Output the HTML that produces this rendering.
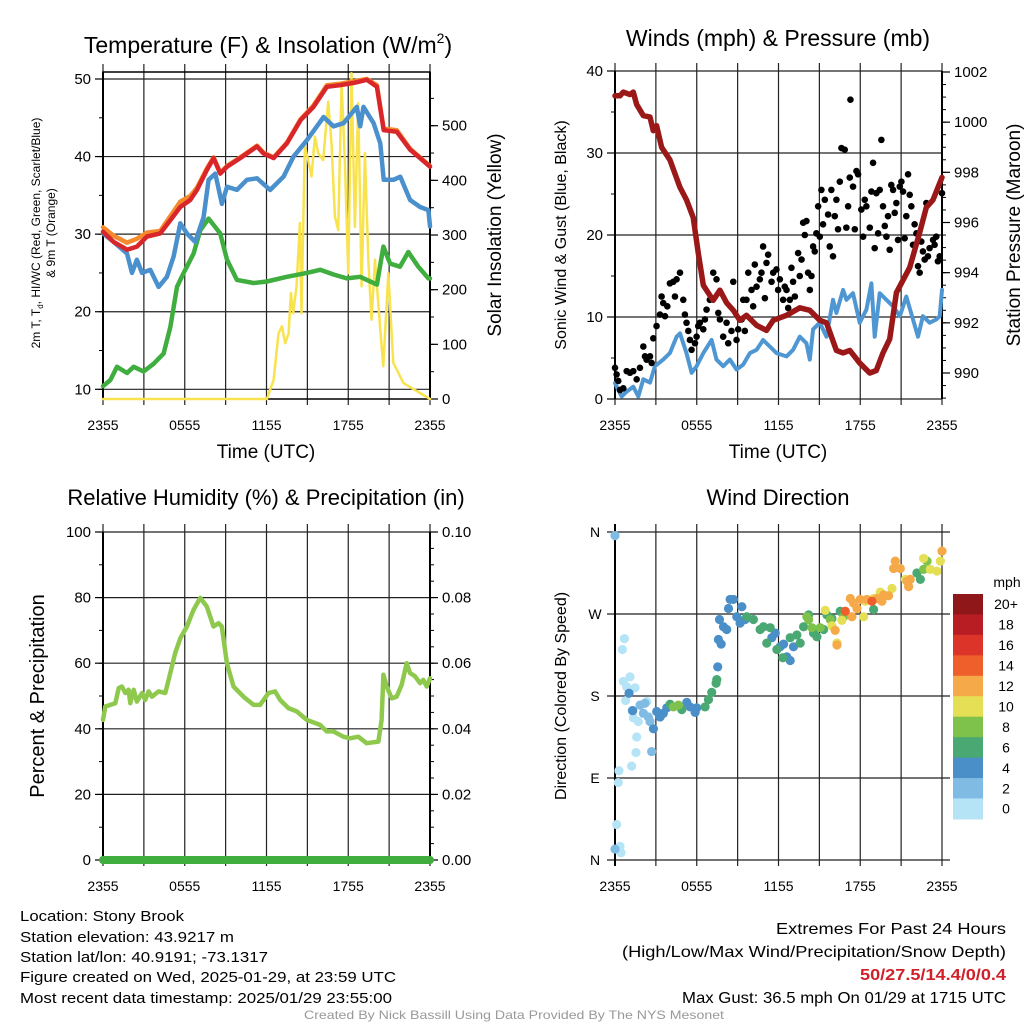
<!DOCTYPE html>
<html><head><meta charset="utf-8"><style>
body{margin:0;background:#fff}
svg{display:block;font-family:"Liberation Sans",sans-serif}
</style></head><body>
<svg id="chart" width="1024" height="1024" viewBox="0 0 1024 1024" xmlns="http://www.w3.org/2000/svg">
<rect width="1024" height="1024" fill="#fff"/>
<g id="root"></g>
<g font-size="15" fill="#000">
<text x="20" y="921" textLength="164" lengthAdjust="spacingAndGlyphs">Location: Stony Brook</text>
<text x="20" y="942" textLength="214" lengthAdjust="spacingAndGlyphs">Station elevation: 43.9217 m</text>
<text x="20" y="962" textLength="248" lengthAdjust="spacingAndGlyphs">Station lat/lon: 40.9191; -73.1317</text>
<text x="20" y="982" textLength="376" lengthAdjust="spacingAndGlyphs">Figure created on Wed, 2025-01-29, at 23:59 UTC</text>
<text x="20" y="1003" textLength="372" lengthAdjust="spacingAndGlyphs">Most recent data timestamp: 2025/01/29 23:55:00</text>
</g>
<g font-size="16" fill="#000" text-anchor="end">
<text x="1006" y="934" textLength="230" lengthAdjust="spacingAndGlyphs">Extremes For Past 24 Hours</text>
<text x="1006" y="957" textLength="384" lengthAdjust="spacingAndGlyphs">(High/Low/Max Wind/Precipitation/Snow Depth)</text>
<text x="1006" y="980" textLength="146" lengthAdjust="spacingAndGlyphs" fill="#d0202a" font-weight="bold">50/27.5/14.4/0/0.4</text>
<text x="1006" y="1003" textLength="324" lengthAdjust="spacingAndGlyphs">Max Gust: 36.5 mph On 01/29 at 1715 UTC</text>
</g>
<text x="514" y="1019" font-size="12" fill="#999" text-anchor="middle" textLength="420" lengthAdjust="spacingAndGlyphs">Created By Nick Bassill Using Data Provided By The NYS Mesonet</text>
</svg>
<script>
// ---------- DATA ----------
const tickHours=[0,6,12,18,24];
const tickTimeLabels=["2355","0555","1155","1755","2355"];
// Panel 1
const tempTimes=[0,0.78,1.76,2.49,3.23,4.2,4.94,5.67,6.4,6.9,7.63,8.12,8.61,9.1,10.07,11.3,11.78,12.52,13.5,14.5,15.45,16.43,17.4,18.4,19.37,20.1,20.6,21.56,22.54,23.27,24];
const tempVals=[30.3,29.0,28.0,28.4,29.7,30.1,31.8,33.5,34.4,35.7,38.3,39.8,37.8,38.7,39.8,41.3,40.4,39.8,41.7,44.7,46.4,49.0,49.2,49.5,49.9,49.0,43.4,43.2,40.9,39.8,38.7];
const t9mVals=[30.9,29.8,28.9,29.4,30.2,30.4,32.3,34.2,34.9,36.0,38.5,39.9,37.9,38.8,39.9,41.4,40.5,39.9,41.8,44.8,46.6,49.2,49.4,49.7,50.0,49.2,43.6,43.4,41.0,39.9,38.8];
const chillTimes=[0,0.78,1.76,2.13,2.49,2.86,3.47,4.08,4.69,5.18,5.67,6.16,6.77,7.38,7.75,8.24,8.73,9.1,9.83,10.56,11.3,12.27,13.25,13.98,14.96,15.7,16.19,16.92,17.65,18.63,18.88,19.12,19.86,20.35,20.6,21.33,21.82,22.54,23.27,23.88,24];
const chillVals=[30.1,29.0,27.5,25.0,26.7,25.0,25.4,23.2,24.5,27.1,31.4,30.1,29.0,32.2,37.0,37.8,33.9,36.1,35.7,37.0,37.2,35.7,37.4,40.0,42.1,43.9,45.1,43.9,44.3,46.4,43.9,46.4,44.3,41.7,37.0,37.0,37.4,34.4,33.5,33.1,31.0];
const dewTimes=[0,0.54,1.03,1.76,2.25,2.98,3.72,4.45,4.94,5.43,5.92,6.65,7.14,7.75,8.6,9.1,9.83,11.05,12.03,13.5,14.96,15.94,16.92,17.89,18.87,20.1,20.58,21.07,21.8,22.41,23.14,23.88,24];
const dewVals=[10.4,11.2,12.9,12.1,12.9,12.3,13.3,14.6,18.0,23.2,25.0,27.5,30.5,32.0,30.1,26.7,24.1,23.7,23.9,24.5,25.0,25.4,24.8,24.3,24.5,23.5,28.4,26.2,25.8,27.7,25.8,24.3,24.3];
const solarTimes=[0,12.03,12.52,12.88,13.13,13.37,13.62,13.79,13.96,14.2,14.45,14.57,14.81,15.06,15.3,15.55,15.79,16.16,16.53,16.77,17.02,17.26,17.51,17.75,18.0,18.24,18.49,18.73,18.98,19.22,19.47,19.71,19.96,20.33,20.57,20.94,21.31,21.68,22.05,24];
const solarVals=[0,0,35,120,133,102,120,194,157,206,322,157,462,437,407,480,450,437,544,468,334,309,577,437,230,596,315,541,206,450,255,145,255,133,60,230,66,48,29,0];
// Panel 2
const windTimes=[0,0.24,0.49,0.86,1.34,1.71,2.08,2.57,2.93,3.54,4.03,4.52,4.77,5.25,5.62,5.99,6.48,7.09,7.45,7.94,8.43,8.92,9.41,9.9,10.39,10.87,11.36,11.85,12.59,13.07,13.56,14.05,14.3,14.54,15.03,15.52,16.0,16.25,16.74,16.98,17.47,17.96,18.45,18.82,19.06,19.43,19.92,20.41,20.9,21.38,21.87,22.24,22.6,23.09,23.58,23.83,24];
const windVals=[1.95,1.1,0.3,0.9,1.5,0.3,2.4,2.0,4.0,4.8,5.6,7.6,8.0,5.6,3.2,4.0,5.6,7.2,4.8,4.0,4.8,3.6,4.2,5.6,6.0,7.2,6.4,5.6,5.2,6.0,7.6,6.8,4.8,8.5,9.3,7.6,12.1,10.5,13.3,12.1,12.9,9.3,10.9,14.1,7.6,12.9,12.1,11.3,10.1,12.5,9.7,7.6,10.1,9.3,9.7,10.1,13.3];
const pressTimes=[0,0.37,0.61,1.1,1.34,1.59,2.08,2.57,2.81,3.05,3.42,4.03,4.77,5.25,5.74,6.11,6.48,6.96,7.21,7.7,8.19,8.68,9.16,9.65,10.39,11.12,11.61,12.59,13.56,14.3,15.03,15.52,16.25,16.74,17.23,17.96,18.7,19.18,19.67,20.16,20.65,21.14,21.63,22.36,22.85,23.34,24];
const pressVals=[1001.05,1001.05,1001.2,1001.1,1001.2,1000.7,1000.26,1000.2,999.66,999.86,999.0,998.5,997.4,996.9,996.2,994.8,993.5,993.1,992.9,993.3,992.8,992.5,992.1,992.3,991.9,991.7,992.1,992.3,992.6,992.5,992.1,992.0,990.9,990.8,990.9,990.4,990.0,990.1,990.8,991.35,993.2,993.7,994.2,995.6,996.6,996.9,997.8];
const gustTimes=[0,.12,.24,.37,.61,.86,1.1,1.34,1.59,1.83,2.08,2.2,2.32,2.57,2.69,2.81,3.05,3.3,3.42,3.54,3.67,3.84,4.03,4.28,4.4,4.52,4.77,5.01,5.13,5.25,5.38,5.5,5.62,5.87,5.99,6.11,6.23,6.48,6.6,6.72,6.96,7.21,7.45,7.58,7.7,7.94,8.19,8.31,8.55,8.68,8.92,9.04,9.29,9.41,9.53,9.65,9.78,10.02,10.14,10.26,10.39,10.63,10.75,10.87,11.0,11.12,11.24,11.49,11.61,11.85,11.97,12.1,12.34,12.46,12.59,12.71,12.83,12.95,13.07,13.2,13.44,13.56,13.69,13.81,13.93,14.05,14.17,14.3,14.42,14.54,14.66,14.78,14.91,15.03,15.15,15.27,15.4,15.64,15.76,15.88,16.0,16.13,16.25,16.37,16.5,16.62,16.86,16.98,17.11,17.23,17.28,17.47,17.6,17.72,17.84,18.08,18.21,18.33,18.45,18.7,18.82,18.94,19.06,19.18,19.31,19.43,19.55,19.67,19.8,19.92,20.04,20.16,20.28,20.41,20.53,20.65,20.77,20.9,21.02,21.14,21.26,21.38,21.51,21.63,21.75,21.87,21.99,22.12,22.24,22.36,22.48,22.6,22.73,22.85,22.97,23.09,23.34,23.46,23.58,23.7,23.83,24.0];
const gustVals=[3.8,3.0,2.2,1.1,1.3,3.4,3.2,3.4,2.4,3.8,6.4,5.2,4.8,5.2,4.4,7.4,8.9,10.3,12.5,11.7,10.1,11.3,14.1,14.3,12.5,14.6,15.4,12.1,10.3,9.3,8.3,7.2,6.0,6.8,7.6,8.9,9.3,8.5,9.7,10.9,12.1,15.4,14.6,10.5,9.7,7.6,9.3,6.8,8.3,14.3,7.2,8.5,9.7,12.1,8.3,12.1,15.4,13.3,11.3,16.4,13.7,14.6,15.4,18.6,12.3,16.6,17.6,14.3,15.4,15.8,13.3,14.6,12.1,13.7,13.3,11.1,12.1,16.0,14.3,12.5,17.8,15.0,17.0,21.5,20.0,21.7,15.4,13.3,15.0,18.6,18.0,20.2,23.5,19.8,25.5,21.3,24.3,22.5,18.6,25.5,17.4,22.3,24.3,20.7,26.5,30.6,30.4,20.9,23.5,27.0,36.5,25.9,20.7,27.8,27.4,23.1,19.8,24.3,23.5,20.9,25.3,28.8,18.4,25.1,20.2,25.5,31.6,23.5,21.1,19.8,22.3,18.2,26.1,25.5,22.7,23.9,19.4,25.9,26.5,25.3,19.6,22.3,27.4,24.9,23.5,18.8,21.3,20.2,16.2,15.4,19.2,18.0,17.0,23.9,17.4,18.4,19.4,18.8,19.8,16.8,17.4,25.1];
// Panel 3
const rhTimes=[0,.17,.54,.9,1.15,1.39,1.64,1.88,2.0,2.25,2.49,2.86,3.1,3.35,3.59,4.08,4.57,4.94,5.3,5.67,6.16,6.65,7.14,7.62,8.11,8.48,8.72,9.09,9.58,10.31,11.05,11.53,12.15,12.63,13.0,13.61,14.22,14.96,15.93,16.42,16.91,17.64,18.13,18.74,19.35,20.21,20.45,20.58,20.82,21.19,21.55,21.92,22.29,22.53,22.9,23.27,23.51,23.76,24];
const rhVals=[42.7,46.8,47.3,47.8,52.4,52.9,50.9,51.9,47.8,51.9,48.3,50.9,48.8,51.4,49.8,51.4,50.9,57.0,63.1,67.6,71.2,76.3,79.9,77.3,71.2,72.2,71.2,60.0,52.9,49.8,47.3,47.3,50.9,51.4,48.8,46.3,45.3,42.7,41.2,39.2,39.2,37.6,37.1,37.6,35.6,36.1,42.7,56.5,52.9,49.3,49.8,53.4,60.0,57.0,56.0,53.9,54.9,52.9,55.4];
const precipTimes=[0,24];
const precipVals=[0,0];
// Panel 4
const dirTimes=[.69,.54,1.10,.61,.86,1.47,.78,1.35,1.71,1.59,1.54,1.22,.29,.24,.12,.37,.44,2.33,
0,1.84,2.08,2.45,2.57,2.69,0,1.27,2.2,
1.03,1.30,2.82,3.06,3.31,3.55,3.8,5.27,5.51,5.88,6.0,7.54,7.59,7.79,7.96,8.2,7.67,8.45,8.69,8.33,8.94,9.31,9.18,9.55,11.76,12.12,12.37,12.61,12.86,11.51,13.1,
4.04,4.9,6.61,6.86,7.1,7.42,7.47,9.67,10.16,10.65,10.9,11.39,11.14,11.88,12.32,12.86,13.35,13.59,13.84,14.21,14.57,14.82,15.55,15.92,16.53,15.31,18.98,22.16,22.41,
4.65,4.29,14.08,14.45,15.06,15.8,16.78,14.21,22.65,22.9,
15.43,16.29,15.92,16.65,18.37,18.98,19.47,20.33,22.65,23.14,23.63,21.31,18.25,23.88,
16.29,16.16,17.27,17.51,17.76,18.0,18.49,19.23,19.59,19.72,20.08,20.57,20.45,20.94,21.43,21.55,21.67,24.0,17.39,
16.9,18.86];
const dirDegs=[243,231,201,196,190,189,175,156,152,135,118,103,98,85,39,15,8,174,
356,170,161,157,152,119,12,164,172,
183,164,144,163,157,161,167,173,168,162,167,212,242,237,256,253,264,286,286,276,267,278,260,264,249,234,237,223,219,244,234,
171,165,168,176,184,194,198,267,264,253,256,255,238,231,222,244,247,238,256,269,249,245,269,265,273,253,275,315,308,
170,168,267,255,255,264,267,264,319,328,
274,238,257,263,284,287,294,298,331,319,317,308,267,328,
236,252,287,282,276,286,286,287,284,291,290,328,320,320,306,300,308,339,267,
273,284];
const dirSpeeds=[1,1,1,1,1,1,1,1,1,1,1,1,1,1,1,1,1,1,
3,3,3,3,3,3,3,3,3,
5,5,5,5,5,5,5,5,5,5,5,5,5,5,5,5,5,5,5,5,5,5,5,5,5,5,5,5,5,5,5,
7,7,7,7,7,7,7,7,7,7,7,7,7,7,7,7,7,7,7,7,7,7,7,7,7,7,7,7,7,
9,9,9,9,9,9,9,9,9,9,
11,11,11,11,11,11,11,11,11,11,11,11,11,11,
13,13,13,13,13,13,13,13,13,13,13,13,13,13,13,13,13,13,13,
15,15];
const speedLevels=["0","2","4","6","8","10","12","14","16","18","20+"];
const speedColors=["#b5e4f7","#80bbe4","#4a8fc8","#4aa872","#7fc24b","#e5df55","#f6a949","#ee5f2b","#dc3429","#b81d23","#8f1619"];

// ---------- DRAWING ----------
const NS="http://www.w3.org/2000/svg";
const root=document.getElementById('root');
function mk(tag,attrs,parent){const e=document.createElementNS(NS,tag);for(const k in attrs)e.setAttribute(k,attrs[k]);(parent||root).appendChild(e);return e;}
function txt(s,attrs,parent){const e=mk('text',attrs,parent);e.textContent=s;return e;}
function linScale(d0,d1,r0,r1){return v=>r0+(v-d0)*(r1-r0)/(d1-d0);}
function pathFrom(ts,vs,xs,ys){return ts.map((t,i)=>(i?'L':'M')+xs(t).toFixed(1)+','+ys(vs[i]).toFixed(1)).join('');}

function panel(name,x0,x1,yT,yB){
  const g=mk('g',{});
  
  
  const xs=linScale(0,24,x0,x1);
  for(let h=0;h<=24;h+=3){
    const l=mk('line',{x1:xs(h),x2:xs(h),y1:yT-8,y2:yB+6,stroke:'#222','stroke-width':1.2},g);
    
    
  }
  tickHours.forEach((h,i)=>{
    const t=txt(tickTimeLabels[i],{x:xs(h),y:yB+31,'font-size':14,'text-anchor':'middle'},g);
    
    
  });
  return {g,xs};
}
function yAxis(g,x,side,ys,majors,labels,minors,yT,yB,fs){
  const dir=side==='left'?-1:1;
  mk('line',{x1:x,x2:x,y1:yT,y2:yB,stroke:'#000','stroke-width':2},g);
  minors.forEach(v=>mk('line',{x1:x,x2:x+dir*4,y1:ys(v),y2:ys(v),stroke:'#000','stroke-width':1},g));
  majors.forEach((v,i)=>{
    mk('line',{x1:x,x2:x+dir*8,y1:ys(v),y2:ys(v),stroke:'#000','stroke-width':1.2},g);
    const t=txt(labels[i],{x:x+dir*12,y:ys(v)+5,'font-size':fs||15,'text-anchor':side==='left'?'end':'start'},g);
    
    
  });
}
function range(a,b,s){const r=[];for(let v=a;v<=b+1e-9;v+=s)r.push(+v.toFixed(4));return r;}
function title(s,x,y,fs,name){const t=txt(s,{x:x,y:y,'font-size':fs,'text-anchor':'middle'});return t;}
function vtitle(s,x,y,fs,name){const t=txt(s,{x:0,y:0,'font-size':fs,'text-anchor':'middle',transform:`translate(${x},${y}) rotate(-90)`});return t;}
function series(g,d,stroke,w,name){const p=mk('path',{d:d,fill:'none',stroke:stroke,'stroke-width':w,'stroke-linejoin':'round','stroke-linecap':'round'},g);return p;}

// Panel 1
(function(){
  const x0=103,x1=430,yT=72,yB=399;
  const {g,xs}=panel('temperature-panel',x0,x1,yT,yB);
  const yl=linScale(10,50,389.3,79);
  const yr=linScale(0,500,399,125.7);
  [10,20,30,40,50].forEach(v=>mk('line',{x1:x0,x2:x1,y1:yl(v),y2:yl(v),stroke:'#222','stroke-width':1.2},g));
  mk('rect',{x:x0,y:yT,width:x1-x0,height:yB-yT,fill:'none',stroke:'#000','stroke-width':1.5},g);
  yAxis(g,x0,'left',yl,[10,20,30,40,50],['10','20','30','40','50'],range(10,50,5),yT,yB);
  yAxis(g,x1,'right',yr,[0,100,200,300,400,500],['0','100','200','300','400','500'],range(0,550,50),yT,yB);
  series(g,pathFrom(solarTimes,solarVals,xs,yr),'#f8e34e',2.5,'solar-insolation-line');
  series(g,pathFrom(dewTimes,dewVals,xs,yl),'#3fae3f',4.5,'dewpoint-line');
  series(g,pathFrom(tempTimes,t9mVals,xs,yl),'#f58a2c',4.5,'temp-9m-line');
  series(g,pathFrom(chillTimes,chillVals,xs,yl),'#4a90cd',4.5,'windchill-line');
  series(g,pathFrom(tempTimes,tempVals,xs,yl),'#d9262b',4.5,'temp-2m-line');
  const tt=title('',268,53,23,'panel-title-temperature');
  const s1=mk('tspan',{},tt);s1.textContent='Temperature (F) & Insolation (W/m';
  const s2=mk('tspan',{dy:-10,'font-size':14},tt);s2.textContent='2';
  const s3=mk('tspan',{dy:10},tt);s3.textContent=')';
  title('Time (UTC)',266,458,19,'x-axis-title');
  const l1=mk('text',{x:0,y:0,'font-size':12,'text-anchor':'middle',transform:'translate(40,233) rotate(-90)'});
  
  const a=mk('tspan',{},l1);a.textContent='2m T, T';
  const b=mk('tspan',{'font-size':8,dy:3},l1);b.textContent='d';
  const c=mk('tspan',{dy:-3},l1);c.textContent=', HI/WC (Red, Green, Scarlet/Blue)';
  vtitle('& 9m T (Orange)',55,233,12,'left-axis-title-line2');
  vtitle('Solar Insolation (Yellow)',501,235,19,'right-axis-title');
})();

// Panel 2
(function(){
  const x0=615,x1=942,yT=71,yB=399;
  const {g,xs}=panel('winds-panel',x0,x1,yT,yB);
  const yl=linScale(0,40,399,71);
  const yr=linScale(990,1002,373,72);
  [0,10,20,30,40].forEach(v=>mk('line',{x1:x0,x2:x1,y1:yl(v),y2:yl(v),stroke:'#222','stroke-width':1.2},g));
  yAxis(g,x0,'left',yl,[0,10,20,30,40],['0','10','20','30','40'],range(0,40,5),yT,yB);
  yAxis(g,x1,'right',yr,[990,992,994,996,998,1000,1002],['990','992','994','996','998','1000','1002'],range(989,1002,0.5),yT,yB);
  series(g,pathFrom(windTimes,windVals,xs,yl),'#4f97d3',4,'sonic-wind-line');
  gustTimes.forEach((t,i)=>{
    const c=mk('circle',{cx:xs(t),cy:yl(gustVals[i]),r:3.3,fill:'#000'},g);
    
    
  });
  series(g,pathFrom(pressTimes,pressVals,xs,yr),'#9b1818',5.5,'pressure-line');
  title('Winds (mph) & Pressure (mb)',778,46,23,'panel-title-winds');
  title('Time (UTC)',778,458,19,'x-axis-title');
  vtitle('Sonic Wind & Gust (Blue, Black)',566,235,16,'left-axis-title');
  vtitle('Station Pressure (Maroon)',1020,235,19,'right-axis-title');
})();

// Panel 3
(function(){
  const x0=103,x1=430,yT=532,yB=860;
  const {g,xs}=panel('humidity-panel',x0,x1,yT,yB);
  const yl=linScale(0,100,860,532);
  const yr=linScale(0,0.1,860,532);
  [0,20,40,60,80,100].forEach(v=>mk('line',{x1:x0,x2:x1,y1:yl(v),y2:yl(v),stroke:'#222','stroke-width':1.2},g));
  yAxis(g,x0,'left',yl,[0,20,40,60,80,100],['0','20','40','60','80','100'],range(0,100,10),yT,yB);
  yAxis(g,x1,'right',yr,[0,0.02,0.04,0.06,0.08,0.1],['0.00','0.02','0.04','0.06','0.08','0.10'],range(0,0.1,0.005),yT,yB);
  series(g,pathFrom(rhTimes,rhVals,xs,yl),'#8ec94e',4.5,'relative-humidity-line');
  series(g,pathFrom(precipTimes,precipVals,xs,yr),'#3fae3f',8,'precipitation-line');
  title('Relative Humidity (%) & Precipitation (in)',266,505,22,'panel-title-humidity');
  vtitle('Percent & Precipitation',44,696,20,'left-axis-title');
})();

// Panel 4
(function(){
  const x0=615,x1=942,yT=532,yB=860;
  const {g,xs}=panel('wind-direction-panel',x0,x1,yT,yB);
  const yl=linScale(0,360,860,532);
  [0,90,180,270,360].forEach(v=>mk('line',{x1:x0-8,x2:x1+8,y1:yl(v),y2:yl(v),stroke:'#222','stroke-width':1.2},g));
  mk('line',{x1:x0,x2:x0,y1:yT-8,y2:yB+6,stroke:'#000','stroke-width':2},g);
  [['N',0],['E',90],['S',180],['W',270],['N',360]].forEach(p=>{
    const t=txt(p[0],{x:x0-20,y:yl(p[1])+5,'font-size':14,'text-anchor':'middle'},g);
    
    
  });
  dirTimes.forEach((t,i)=>{
    const bin=Math.min(10,Math.floor(dirSpeeds[i]/2));
    const c=mk('circle',{cx:xs(t),cy:yl(dirDegs[i]),r:4.6,fill:speedColors[bin]},g);
    
    
  });
  const cb=mk('g',{},g);
  
  
  const bh=20.45, top=594;
  for(let i=0;i<speedLevels.length;i++){
    const k=speedLevels.length-1-i;
    mk('rect',{x:953,y:top+i*bh,width:30,height:bh+0.5,fill:speedColors[k]},cb);
    const t=txt(speedLevels[k],{x:1006,y:top+i*bh+bh/2+5,'font-size':14,'text-anchor':'middle'},cb);
    
    
  }
  txt('mph',{x:1007,y:587,'font-size':14,'text-anchor':'middle'},cb);
  title('Wind Direction',778,505,22,'panel-title-wind-direction');
  vtitle('Direction (Colored By Speed)',566,696,16,'left-axis-title');
})();
</script>
</body></html>
